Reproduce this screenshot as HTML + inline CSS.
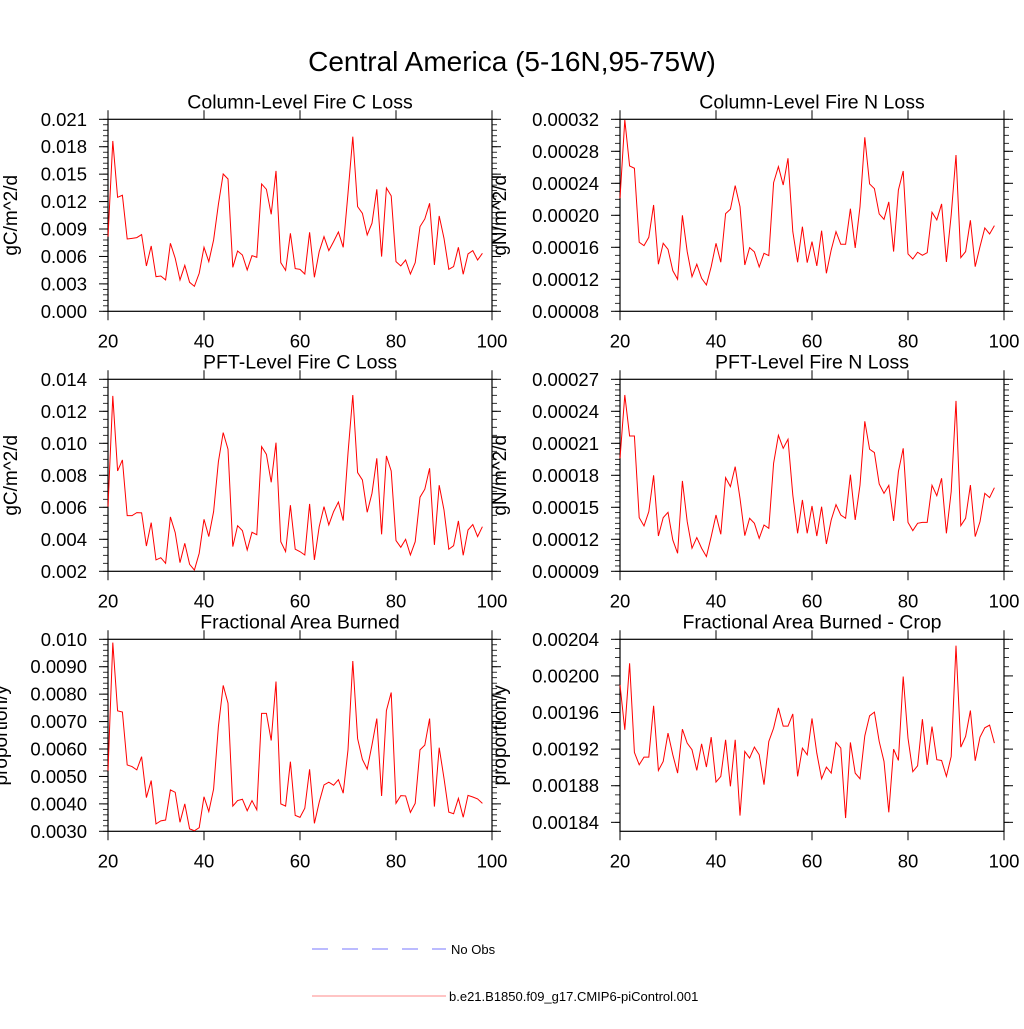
<!DOCTYPE html>
<html><head><meta charset="utf-8">
<style>
html,body{margin:0;padding:0;background:#fff;}
svg text{font-family:"Liberation Sans",sans-serif;fill:#000;}
</style></head>
<body>
<svg id="chart" width="1024" height="1024" viewBox="0 0 1024 1024" xmlns="http://www.w3.org/2000/svg">
<text x="512" y="71" font-size="28" text-anchor="middle">Central America (5-16N,95-75W)</text>
<g>
<line x1="312" y1="949" x2="446" y2="949" stroke="#7777ff" stroke-width="1" stroke-dasharray="16,14"/>
<text x="451" y="954" font-size="13">No Obs</text>
<line x1="312" y1="996" x2="446" y2="996" stroke="#ff8888" stroke-width="1"/>
<text x="449" y="1001" font-size="13">b.e21.B1850.f09_g17.CMIP6-piControl.001</text>
</g>
</svg>
<script>
const years = [];
for (let y = 20; y <= 98; y++) years.push(y);
const xTicks = [20, 40, 60, 80, 100];

// Column-Level Fire C Loss (x1e-3 gC/m^2/d)
const colC = [8.17,18.63,12.47,12.69,7.91,7.98,8.06,8.39,4.96,7.15,3.79,3.86,3.43,7.44,5.80,3.43,5.03,3.17,2.73,4.16,7.00,5.43,7.80,11.70,15.02,14.47,4.81,6.60,6.16,4.52,6.09,5.91,13.93,13.34,10.61,15.35,5.32,4.48,8.53,4.67,4.59,4.08,8.64,3.72,6.53,8.17,6.64,7.62,8.68,7.00,12.91,19.10,11.45,10.72,8.35,9.63,13.34,5.98,13.49,12.62,5.43,4.96,5.61,4.08,5.32,9.26,10.10,11.81,5.07,10.43,7.98,4.59,4.89,7.00,4.05,6.27,6.64,5.61,6.34];
const colCTicks = ["0.000","0.003","0.006","0.009","0.012","0.015","0.018","0.021"];
// Column-Level Fire N Loss (x1e-5)
const colN = [22.13,31.92,26.17,25.88,16.63,16.21,17.25,21.29,13.88,16.5,15.75,13.08,12,20,15.46,12.33,13.88,12.13,11.29,13.58,16.5,14.13,20.21,20.75,23.71,21.08,13.79,15.96,15.42,13.54,15.25,14.96,24.08,26.08,23.79,27.13,17.96,14.13,18.58,14.08,16.71,13.67,18.08,12.75,15.67,17.96,16.38,16.38,20.83,15.92,21.08,29.75,23.92,23.33,20.17,19.5,21.67,15.46,23.17,25.54,15.17,14.54,15.38,15,15.33,20.38,19.42,21.42,14.17,20.04,27.54,14.71,15.46,19.38,13.58,16.08,18.42,17.67,18.71];
const colNTicks = ["0.00008","0.00012","0.00016","0.00020","0.00024","0.00028","0.00032"];
// PFT-Level Fire C Loss (x1e-3)
const pftC = [6.04,12.96,8.27,8.96,5.48,5.48,5.67,5.65,3.58,5.04,2.71,2.85,2.5,5.40,4.42,2.54,3.75,2.44,2.08,3.13,5.25,4.17,5.73,8.85,10.67,9.63,3.54,4.85,4.54,3.33,4.44,4.29,9.79,9.31,7.56,10.04,3.85,3.23,6.13,3.38,3.23,3.02,6.21,2.71,4.79,6.04,4.90,5.73,6.33,5.17,9.38,13.02,8.17,7.71,5.69,6.88,9.06,4.31,9.21,8.27,3.92,3.5,4.0,3.02,3.85,6.63,7.13,8.44,3.65,7.38,5.83,3.38,3.60,5.15,3.0,4.58,4.92,4.17,4.79];
const pftCTicks = ["0.002","0.004","0.006","0.008","0.010","0.012","0.014"];
// PFT-Level Fire N Loss (x1e-5)
const pftN = [19.59,25.53,21.69,21.69,14.03,13.25,14.59,18,12.31,14.03,14.53,11.94,10.69,17.47,13.66,11.16,12.16,11.16,10.38,12.25,14.28,12.47,17.78,16.94,18.81,15.84,12.34,13.97,13.5,12.09,13.34,13.03,19.13,21.75,20.53,21.38,16.16,12.56,15.69,12.56,15.13,12.31,15.06,11.56,13.81,15.25,14.28,13.97,18.06,13.81,17.09,23.06,20.44,20.13,17.19,16.31,17.06,13.72,18.34,20.53,13.59,12.81,13.5,13.59,13.59,17.06,16.09,17.72,12.56,16.47,24.97,13.28,13.97,17.09,12.25,13.66,16.31,15.91,16.84];
const pftNTicks = ["0.00009","0.00012","0.00015","0.00018","0.00021","0.00024","0.00027"];
// Fractional Area Burned (x1e-3)
const fab = [5.21,9.88,7.39,7.35,5.42,5.36,5.24,5.72,4.23,4.85,3.27,3.38,3.41,4.51,4.42,3.33,4.0,3.09,3.02,3.13,4.26,3.72,4.54,6.82,8.32,7.67,3.92,4.12,4.17,3.75,4.12,3.78,7.30,7.30,6.31,8.46,4.0,3.92,5.54,3.58,3.51,3.84,5.26,3.29,4.06,4.69,4.79,4.68,4.88,4.39,5.97,9.21,6.38,5.62,5.27,6.15,7.11,4.29,7.40,8.06,4.02,4.30,4.29,3.69,4.02,5.97,6.14,7.11,3.90,6.05,4.93,3.70,3.64,4.20,3.51,4.31,4.25,4.18,4.02];
const fabTicks = ["0.0030","0.0040","0.0050","0.0060","0.0070","0.0080","0.0090","0.010"];
// Fractional Area Burned - Crop (x1e-5)
const fabCrop = [199.02,194.11,201.38,191.64,190.29,191.13,191.13,196.73,189.67,190.65,193.75,191.38,189.38,194.18,192.65,191.93,189.67,192.58,190.04,193.31,188.4,189.02,193.02,187.93,193.02,184.73,191.75,191.02,192.22,191.38,188.11,192.84,194.29,196.51,194.51,194.51,195.85,189.02,192.11,191.38,195.35,191.56,188.76,190.04,189.38,192.73,192.11,184.47,192.73,189.38,188.76,193.45,195.64,196.04,192.84,190.65,185.09,192.0,190.76,199.93,193.2,189.53,190.18,195.27,190.29,194.47,190.84,190.76,189.02,191.2,203.31,192.22,193.38,196.22,190.73,193.31,194.33,194.62,192.65];
const fabCropTicks = ["0.00184","0.00188","0.00192","0.00196","0.00200","0.00204"];

const NS = "http://www.w3.org/2000/svg";
const svg = document.getElementById("chart");
function mk(tag, attrs, parent) {
  const e = document.createElementNS(NS, tag);
  for (const k in attrs) e.setAttribute(k, attrs[k]);
  parent.appendChild(e);
  return e;
}

function panel(cfg) {
  const g = mk("g", {}, svg);
  
  
  const L = cfg.x, R = cfg.x + 384, T = cfg.y, B = cfg.y + 192;
  const xs = v => L + (v - 20) / 80 * (R - L);
  const ys = v => B - (v - cfg.ymin) / (cfg.ymax - cfg.ymin) * (B - T);
  const fr = mk("rect", {x: L, y: T, width: R - L, height: B - T, fill: "none", stroke: "#000", "stroke-width": 1.2}, g);
  
  
  xTicks.forEach(t => {
    const x = xs(t);
    mk("line", {x1: x, y1: B, x2: x, y2: B + 9, stroke: "#000", "stroke-width": 1}, g);
    mk("line", {x1: x, y1: T, x2: x, y2: T - 9, stroke: "#000", "stroke-width": 1}, g);
    const tl = mk("text", {x: x, y: B + 36, "font-size": 18.5, "text-anchor": "middle"}, g);
    
    
    tl.textContent = t;
  });
  const n = cfg.ticks.length;
  for (let i = 0; i < n; i++) {
    const v = cfg.t0 + i * cfg.step;
    const y = ys(v);
    mk("line", {x1: L, y1: y, x2: L - 9, y2: y, stroke: "#000"}, g);
    mk("line", {x1: R, y1: y, x2: R + 9, y2: y, stroke: "#000"}, g);
    const tl = mk("text", {x: L - 21, y: y + 6.5, "font-size": 18.5, "text-anchor": "end"}, g);
    
    
    tl.textContent = cfg.ticks[i];
  }
  const ms = cfg.step / cfg.minor;
  for (let v = cfg.t0 - cfg.step; v <= cfg.ymax + 1e-9; v += ms) {
    if (v < cfg.ymin - 1e-9) continue;
    const y = ys(v);
    mk("line", {x1: L, y1: y, x2: L - 5, y2: y, stroke: "#000", "stroke-width": 0.8}, g);
    mk("line", {x1: R, y1: y, x2: R + 5, y2: y, stroke: "#000", "stroke-width": 0.8}, g);
  }
  const tt = mk("text", {x: (L + R) / 2, y: T - 11, "font-size": 19.5, "text-anchor": "middle"}, g);
  
  
  tt.textContent = cfg.title;
  const yt = mk("text", {x: 0, y: 0, "font-size": 19, "text-anchor": "middle", transform: `translate(${L - cfg.yoff},${(T + B) / 2}) rotate(-90)`}, g);
  
  
  yt.textContent = cfg.ytitle;
  const pts = cfg.data.map((v, i) => xs(years[i]).toFixed(2) + "," + ys(v).toFixed(2)).join(" ");
  const pl = mk("polyline", {points: pts, fill: "none", stroke: "#ff0000", "stroke-width": 1}, g);
  
  
}

panel({name: "panel-column-fire-c-loss", x: 108, y: 119.3, title: "Column-Level Fire C Loss", ytitle: "gC/m^2/d", yoff: 91,
  data: colC, ymin: 0, ymax: 21, t0: 0, step: 3, minor: 5, ticks: colCTicks});
panel({name: "panel-column-fire-n-loss", x: 620, y: 119.3, title: "Column-Level Fire N Loss", ytitle: "gN/m^2/d", yoff: 114,
  data: colN, ymin: 8, ymax: 32, t0: 8, step: 4, minor: 4, ticks: colNTicks});
panel({name: "panel-pft-fire-c-loss", x: 108, y: 379.3, title: "PFT-Level Fire C Loss", ytitle: "gC/m^2/d", yoff: 91,
  data: pftC, ymin: 2, ymax: 14, t0: 2, step: 2, minor: 4, ticks: pftCTicks});
panel({name: "panel-pft-fire-n-loss", x: 620, y: 379.3, title: "PFT-Level Fire N Loss", ytitle: "gN/m^2/d", yoff: 114,
  data: pftN, ymin: 9, ymax: 27, t0: 9, step: 3, minor: 6, ticks: pftNTicks});
panel({name: "panel-fractional-area-burned", x: 108, y: 639.3, title: "Fractional Area Burned", ytitle: "proportion/y", yoff: 101,
  data: fab, ymin: 3, ymax: 10, t0: 3, step: 1, minor: 5, ticks: fabTicks});
panel({name: "panel-fractional-area-burned-crop", x: 620, y: 639.3, title: "Fractional Area Burned - Crop", ytitle: "proportion/y", yoff: 114,
  data: fabCrop, ymin: 183.02, ymax: 204, t0: 184, step: 4, minor: 4, ticks: fabCropTicks});
</script>
</body></html>
